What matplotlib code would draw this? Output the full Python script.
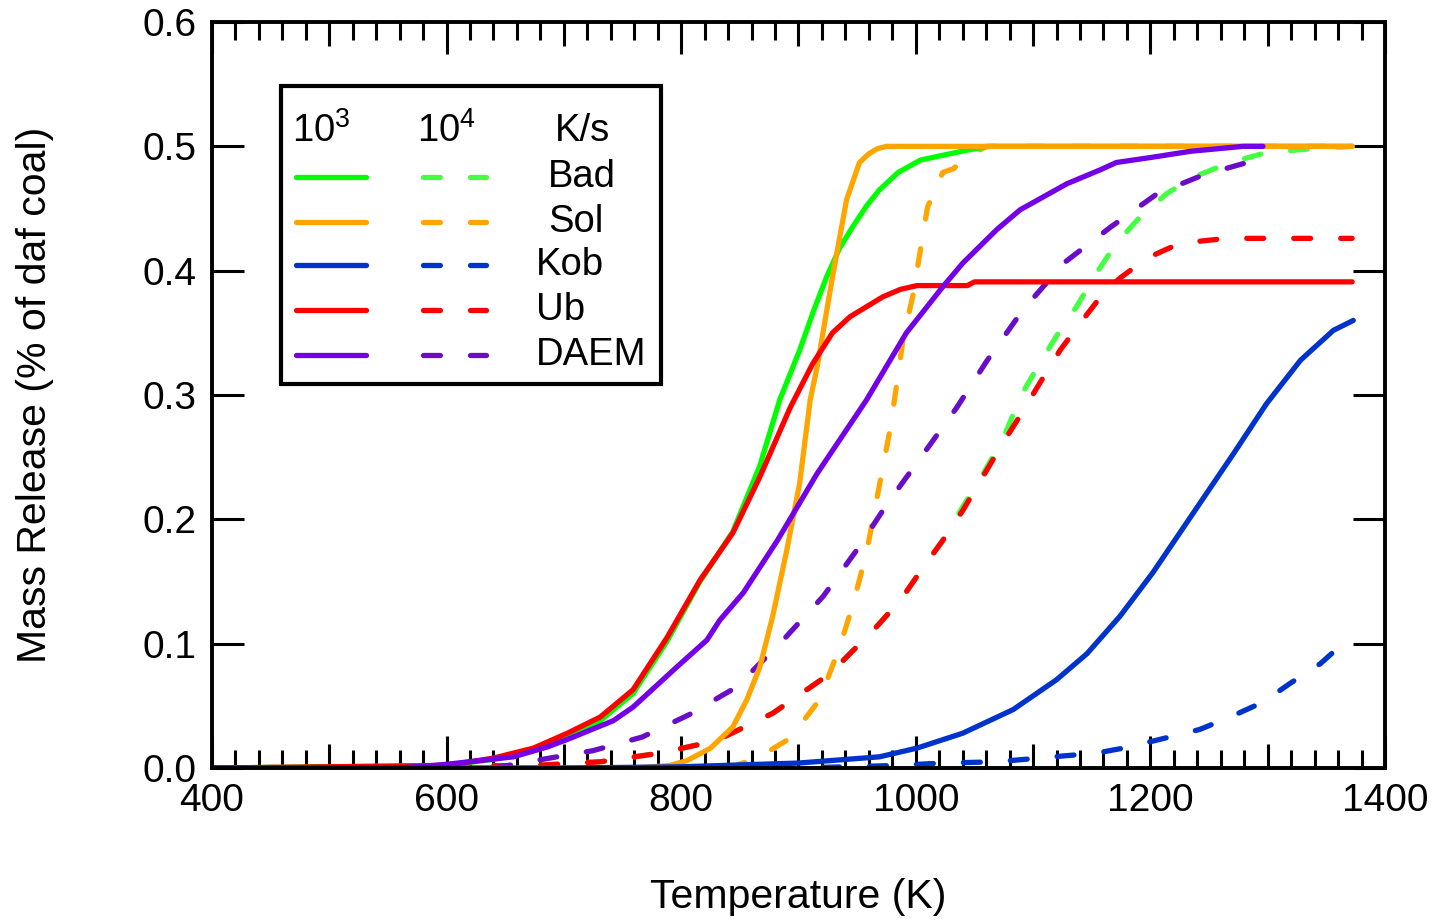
import numpy as np
import matplotlib
matplotlib.use('Agg')
import matplotlib.pyplot as plt
from matplotlib.patches import Rectangle
from matplotlib.ticker import MultipleLocator, FuncFormatter

plt.rcParams['font.family'] = ['Liberation Sans', 'DejaVu Sans']
plt.rcParams['mathtext.fontset'] = 'custom'
plt.rcParams['mathtext.rm'] = 'Liberation Sans'
plt.rcParams['mathtext.default'] = 'regular'

# ---- data (temperature in K, mass release fraction) ----
bad_1e3_T = [400, 600, 640, 674, 703, 731, 759, 788, 816, 844, 867, 884, 901, 913, 924, 935, 946, 958, 969, 985, 1004, 1044, 1063, 1372]
bad_1e3_v = [0, 0.002, 0.007, 0.014, 0.025, 0.038, 0.060, 0.102, 0.150, 0.190, 0.243, 0.296, 0.336, 0.368, 0.395, 0.418, 0.435, 0.452, 0.465, 0.479, 0.489, 0.497, 0.5, 0.5]

sol_1e3_T = [400, 760, 790, 805, 825, 844, 856, 867, 878, 890, 901, 910, 916, 929, 941, 952, 960, 967, 975, 1372]
sol_1e3_v = [0, 0, 0.002, 0.006, 0.016, 0.033, 0.055, 0.081, 0.122, 0.175, 0.229, 0.296, 0.323, 0.395, 0.457, 0.487, 0.494, 0.498, 0.5, 0.5]

kob_1e3_T = [400, 700, 800, 900, 969, 1001, 1040, 1083, 1120, 1146, 1174, 1202, 1225, 1248, 1271, 1299, 1328, 1356, 1373]
kob_1e3_v = [0, 0, 0.001, 0.004, 0.009, 0.016, 0.028, 0.047, 0.071, 0.092, 0.122, 0.157, 0.189, 0.221, 0.253, 0.293, 0.328, 0.352, 0.36]

ub_1e3_T = [400, 600, 640, 674, 703, 731, 759, 788, 816, 844, 867, 893, 912, 929, 944, 958, 972, 987, 1001, 1044, 1050, 1372]
ub_1e3_v = [0, 0.002, 0.008, 0.016, 0.028, 0.041, 0.063, 0.105, 0.151, 0.189, 0.234, 0.290, 0.325, 0.350, 0.363, 0.371, 0.379, 0.385, 0.388, 0.388, 0.391, 0.391]

daem_1e3_T = [400, 560, 600, 657, 686, 703, 742, 759, 796, 822, 833, 853, 882, 916, 958, 992, 1023, 1040, 1069, 1089, 1129, 1157, 1171, 1200, 1234, 1279, 1296]
daem_1e3_v = [0, 0, 0.003, 0.009, 0.017, 0.023, 0.038, 0.049, 0.081, 0.103, 0.119, 0.141, 0.183, 0.237, 0.296, 0.350, 0.387, 0.406, 0.433, 0.449, 0.470, 0.481, 0.487, 0.491, 0.496, 0.5, 0.5]

bad_1e4_T = [400, 674, 731, 782, 830, 878, 927, 964, 987, 1006, 1023, 1040, 1057, 1074, 1090, 1106, 1123, 1137, 1154, 1171, 1191, 1214, 1236, 1268, 1299, 1336, 1372]
bad_1e4_v = [0, 0.002, 0.005, 0.012, 0.022, 0.044, 0.076, 0.111, 0.135, 0.161, 0.183, 0.210, 0.236, 0.264, 0.300, 0.326, 0.352, 0.371, 0.398, 0.422, 0.443, 0.462, 0.475, 0.487, 0.495, 0.498, 0.5]

sol_1e4_T = [400, 840, 865, 893, 918, 935, 946, 958, 965, 972, 978, 984, 989, 998, 1004, 1010, 1023, 1032, 1045, 1060, 1372]
sol_1e4_v = [0, 0, 0.008, 0.024, 0.055, 0.097, 0.130, 0.173, 0.208, 0.242, 0.272, 0.310, 0.344, 0.382, 0.417, 0.451, 0.479, 0.482, 0.492, 0.5, 0.5]

kob_1e4_T = [400, 900, 981, 1023, 1069, 1117, 1154, 1177, 1208, 1242, 1268, 1296, 1319, 1345, 1364, 1372]
kob_1e4_v = [0, 0, 0.002, 0.004, 0.005, 0.009, 0.012, 0.016, 0.023, 0.031, 0.041, 0.053, 0.068, 0.084, 0.1, 0.1]

ub_1e4_T = [400, 674, 731, 782, 830, 878, 927, 964, 987, 1006, 1023, 1040, 1057, 1074, 1090, 1106, 1123, 1142, 1160, 1174, 1197, 1225, 1265, 1372]
ub_1e4_v = [0, 0.002, 0.005, 0.012, 0.022, 0.044, 0.076, 0.111, 0.135, 0.161, 0.183, 0.207, 0.234, 0.261, 0.285, 0.310, 0.336, 0.360, 0.382, 0.394, 0.410, 0.422, 0.426, 0.426]

daem_1e4_T = [400, 640, 688, 725, 767, 807, 847, 887, 921, 951, 976, 1006, 1035, 1061, 1091, 1126, 1166, 1206, 1245, 1290]
daem_1e4_v = [0, 0, 0.008, 0.014, 0.025, 0.043, 0.065, 0.103, 0.138, 0.177, 0.213, 0.252, 0.290, 0.328, 0.368, 0.406, 0.435, 0.462, 0.477, 0.489]

models = ['Bad', 'Sol', 'Kob', 'Ub', 'DAEM']
solid_colors = ['#00ff00', '#ffa500', '#0033cc', '#ff0000', '#7300e6']
dashed_colors = ['#44ff44', '#ffa500', '#0033cc', '#ff0000', '#6a0dc8']

slow = {'Bad': (bad_1e3_T, bad_1e3_v), 'Sol': (sol_1e3_T, sol_1e3_v), 'Kob': (kob_1e3_T, kob_1e3_v),
        'Ub': (ub_1e3_T, ub_1e3_v), 'DAEM': (daem_1e3_T, daem_1e3_v)}
fast = {'Bad': (bad_1e4_T, bad_1e4_v), 'Sol': (sol_1e4_T, sol_1e4_v), 'Kob': (kob_1e4_T, kob_1e4_v),
        'Ub': (ub_1e4_T, ub_1e4_v), 'DAEM': (daem_1e4_T, daem_1e4_v)}

lw = 3.8
dash = (3.2, 5.7)

fig = plt.figure(figsize=(14.37, 9.21), dpi=100)
ax = fig.add_axes([0.1475, 0.1661, 0.8163, 0.81])

# draw order: green, orange, red, purple, then blue on top near zero
order = ['Bad', 'Sol', 'Ub', 'DAEM', 'Kob']
for name in order:
    i = models.index(name)
    T, v = fast[name]
    ax.plot(T, v, color=dashed_colors[i], lw=lw, linestyle=(0, dash),
            dash_capstyle='round', solid_capstyle='round', solid_joinstyle='round')
for name in order:
    i = models.index(name)
    T, v = slow[name]
    ax.plot(T, v, color=solid_colors[i], lw=lw, solid_capstyle='round', solid_joinstyle='round')

ax.set_xlim(400, 1400)
ax.set_ylim(0, 0.6)

# axes styling
for sp in ax.spines.values():
    sp.set_linewidth(2.8)

ax.xaxis.set_major_locator(MultipleLocator(100))
ax.xaxis.set_minor_locator(MultipleLocator(20))
ax.xaxis.set_major_formatter(FuncFormatter(lambda x, p: '%d' % x if int(round(x)) % 200 == 0 else ''))
ax.yaxis.set_major_locator(MultipleLocator(0.1))
ax.yaxis.set_major_formatter(FuncFormatter(lambda y, p: '%.1f' % y))

ax.tick_params(axis='both', which='both', direction='in', top=True, right=True, width=2.2)
ax.tick_params(axis='x', which='major', length=23, labelsize=28, pad=11)
ax.tick_params(axis='x', which='minor', length=13)
ax.tick_params(axis='y', which='major', length=23, labelsize=28, pad=11)

for tick, loc in zip(ax.xaxis.get_major_ticks(), ax.get_xticks()):
    if int(round(loc)) % 200 != 0:
        tick.tick1line.set_markersize(17)
        tick.tick2line.set_markersize(17)

ax.set_xlabel('Temperature (K)', fontsize=29.5, va='center')
ax.set_ylabel('Mass Release (% of daf coal)', fontsize=29.5, va='center')
ax.xaxis.set_label_coords(0.5, -0.173)
ax.yaxis.set_label_coords(-0.151, 0.5)

# hand-made legend box
tr = ax.transAxes
ax.add_patch(Rectangle((0.0588, 0.5147), 0.324, 0.3995, transform=tr, fill=False,
                       lw=3.0, edgecolor='black', zorder=5))
ax.text(0.0682, 0.854, r'$10^3$', transform=tr, fontsize=27.5, va='center', ha='left', zorder=6)
ax.text(0.1748, 0.854, r'$10^4$', transform=tr, fontsize=27.5, va='center', ha='left', zorder=6)
ax.text(0.2924, 0.854, 'K/s', transform=tr, fontsize=27.5, va='center', ha='left', zorder=6)

row_y = [0.7922, 0.7319, 0.6743, 0.6139, 0.5536]
label_x = [0.2864, 0.2864, 0.2762, 0.2762, 0.2762]
for i, name in enumerate(models):
    y = row_y[i]
    ax.plot([0.0716, 0.1313], [y, y], transform=tr, color=solid_colors[i], lw=lw,
            solid_capstyle='round', zorder=6, clip_on=False)
    ax.plot([0.1798, 0.2336], [y, y], transform=tr, color=dashed_colors[i], lw=lw,
            linestyle=(0, dash), dash_capstyle='round', zorder=6, clip_on=False)
    ax.text(label_x[i], y, name, transform=tr, fontsize=27.5, va='center', ha='left', zorder=6)

fig.savefig('out.png', dpi=100)
